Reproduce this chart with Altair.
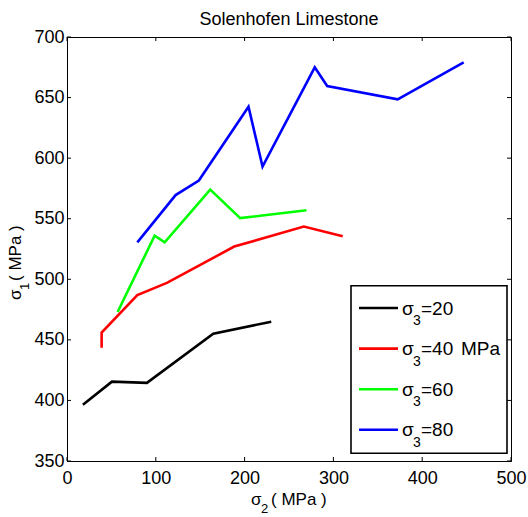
import altair as alt
import pandas as pd

# ---------------- data ----------------
x_ticks = [0, 100, 200, 300, 400, 500]
y_ticks = [350, 400, 450, 500, 550, 600, 650, 700]

series_names = ["20", "40", "60", "80"]
colors = ["#000000", "#ff0000", "#00ff00", "#0000ff"]

s20_x = [17.9, 50.6, 90.0, 164.7, 230.0]
s20_y = [396.5, 415.5, 414.5, 455.0, 465.0]
s40_x = [39.0, 39.0, 79.2, 112.5, 188.3, 266.7, 310.5]
s40_y = [443.5, 456.0, 487.0, 497.0, 527.0, 543.5, 535.5]
s60_x = [57.0, 98.7, 110.0, 161.3, 195.1, 269.7]
s60_y = [473.0, 536.0, 530.5, 574.0, 550.5, 557.0]
s80_x = [79.2, 122.3, 148.5, 204.4, 220.2, 279.0, 293.0, 372.4, 446.7]
s80_y = [530.5, 569.5, 581.5, 642.5, 593.0, 675.0, 659.5, 648.5, 679.0]

legend_texts = ["=20", "=40", "=60", "=80"]
title_text = "Solenhofen Limestone"

# ---------------- build table ----------------
rows = []
for name, xs_, ys_ in [("20", s20_x, s20_y), ("40", s40_x, s40_y),
                       ("60", s60_x, s60_y), ("80", s80_x, s80_y)]:
    for i, (a, b) in enumerate(zip(xs_, ys_)):
        rows.append({"series": name, "s2": a, "s1": b, "ord": i})
df = pd.DataFrame(rows)

W, H = 444, 424
FONT = "Liberation Sans"

xs = alt.Scale(domain=[0, 500], nice=False, zero=False)
ys = alt.Scale(domain=[350, 700], nice=False, zero=False)
cs = alt.Scale(domain=series_names, range=colors)

lines = alt.Chart(df).mark_line(strokeWidth=2.6, clip=True).encode(
    x=alt.X("s2:Q", scale=xs, title=None, axis=alt.Axis(values=x_ticks, labelPadding=8)),
    y=alt.Y("s1:Q", scale=ys, title=None, axis=alt.Axis(values=y_ticks, labelPadding=3)),
    color=alt.Color("series:N", scale=cs, legend=None),
    order="ord:Q",
)

dxt = pd.DataFrame({"v": x_ticks})
dyt = pd.DataFrame({"v": y_ticks})
tick_style = dict(color="black", strokeWidth=1)
xb = alt.Chart(dxt).mark_rule(**tick_style).encode(
    x=alt.X("v:Q", scale=xs, title=None), y=alt.value(H), y2=alt.value(H - 4))
xt = alt.Chart(dxt).mark_rule(**tick_style).encode(
    x=alt.X("v:Q", scale=xs, title=None), y=alt.value(0), y2=alt.value(4))
yl = alt.Chart(dyt).mark_rule(**tick_style).encode(
    y=alt.Y("v:Q", scale=ys, title=None), x=alt.value(0), x2=alt.value(4))
yr = alt.Chart(dyt).mark_rule(**tick_style).encode(
    y=alt.Y("v:Q", scale=ys, title=None), x=alt.value(W), x2=alt.value(W - 4))

one = alt.Data(values=[{}])


def txt(t, x, y, size, angle=0, align="left", baseline="alphabetic"):
    kw = dict(text=t, font=FONT, fontSize=size, color="black",
              align=align, baseline=baseline)
    if angle:
        kw["angle"] = angle
    return alt.Chart(one).mark_text(**kw).encode(x=alt.value(x), y=alt.value(y))


layers = [lines, xb, xt, yl, yr]

# title
layers.append(txt(title_text, W / 2, -12, 18, align="center"))

# x-axis title: sigma_2 ( MPa )
layers.append(txt("σ", 184, 468, 17))
layers.append(txt("2", 194, 476, 13))
layers.append(txt("( MPa )", 204, 468, 17))

# y-axis title: sigma_1 ( MPa ), rotated
layers.append(txt("σ", -46, 263, 17, angle=270))
layers.append(txt("1", -38, 253, 13, angle=270))
layers.append(txt("( MPa )", -46, 244, 17, angle=270))

# legend box
layers.append(alt.Chart(one).mark_rect(fill="white", stroke="black", strokeWidth=1.6).encode(
    x=alt.value(284), x2=alt.value(440), y=alt.value(248.7), y2=alt.value(416.3)))

for i, (name, col, lab) in enumerate(zip(series_names, colors, legend_texts)):
    ry = 271.0 + 40.6 * i
    layers.append(alt.Chart(one).mark_rule(color=col, strokeWidth=2.6).encode(
        x=alt.value(292), x2=alt.value(331), y=alt.value(ry)))
    layers.append(txt("σ", 335, ry + 6.5, 19))
    layers.append(txt("3", 346, ry + 17, 14))
    layers.append(txt(lab, 354, ry + 6.5, 19))
    if name == "40":
        layers.append(txt("MPa", 394, ry + 6.5, 19))

chart = alt.layer(*layers).properties(
    width=W, height=H,
    background="white",
    autosize=alt.AutoSizeParams(type="none"),
    padding={"left": 67, "top": 37, "right": 17, "bottom": 56},
).configure_view(
    stroke="black", strokeWidth=1
).configure_axis(
    ticks=False, grid=False, domain=True, domainColor="black", domainWidth=1,
    labelFont=FONT, labelFontSize=18, labelColor="black", labelFlush=False,
)

chart.save("out.html", embed_options={"renderer": "svg", "actions": False})
